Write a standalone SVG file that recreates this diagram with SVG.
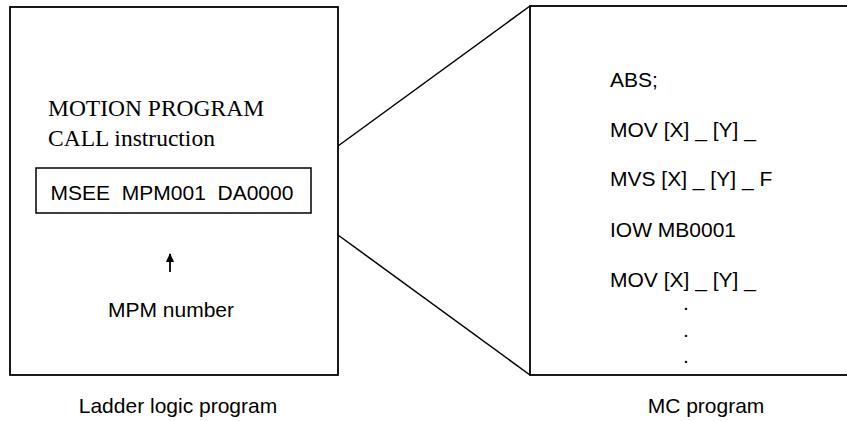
<svg xmlns="http://www.w3.org/2000/svg" width="847" height="421" viewBox="0 0 847 421">
  <style>
    .box { fill: #ffffff; stroke: #000000; stroke-width: 1.8; }
    .inner { fill: none; stroke: #000000; stroke-width: 1.5; }
    .link { fill: none; stroke: #000000; stroke-width: 1.5; }
    .serif { font-family: "Liberation Serif", "Times New Roman", serif; font-size: 23.5px; fill: #000000; }
    .sans { font-family: "Liberation Sans", Arial, sans-serif; font-size: 21px; fill: #000000; }
    .mid { text-anchor: middle; }
  </style>
  <defs>
    <marker id="head" viewBox="0 0 9 8" refX="8" refY="4" markerWidth="9" markerHeight="8" markerUnits="userSpaceOnUse" orient="auto">
      <path d="M0,0 L9,4 L0,8 Z" fill="#000000"/>
    </marker>
  </defs>
  <rect width="847" height="421" fill="#ffffff"/>

  <!-- expansion lines between the two programs -->
  <g id="connectors">
    <line class="link" x1="338" y1="146" x2="530" y2="6"/>
    <line class="link" x1="338" y1="235" x2="530" y2="375"/>
  </g>

  <!-- ladder logic program -->
  <g id="ladder-program">
    <rect class="box" x="10" y="7" width="328" height="368"/>
    <text class="serif" x="48" y="116">MOTION PROGRAM</text>
    <text class="serif" x="48" y="146">CALL instruction</text>
    <g id="msee-instruction">
      <rect class="inner" x="36" y="168" width="275" height="45"/>
      <text class="sans mid" x="172" y="200" xml:space="preserve">MSEE  MPM001  DA0000</text>
    </g>
    <g id="mpm-number">
      <line stroke="#000000" stroke-width="1.8" x1="170" y1="272" x2="170" y2="254" marker-end="url(#head)"/>
      <text class="sans mid" x="171" y="317">MPM number</text>
    </g>
    <text class="sans mid" x="178" y="413">Ladder logic program</text>
  </g>

  <!-- motion program listing -->
  <g id="mc-program">
    <rect class="box" x="530" y="6" width="330" height="369"/>
    <text class="sans" x="610" y="87">ABS;</text>
    <text class="sans" x="610" y="137">MOV [X] _ [Y] _</text>
    <text class="sans" x="610" y="186">MVS [X] _ [Y] _ F</text>
    <text class="sans" x="610" y="237">IOW MB0001</text>
    <text class="sans" x="610" y="287">MOV [X] _ [Y] _</text>
    <text class="sans mid" x="686" y="310">.</text>
    <text class="sans mid" x="686" y="337">.</text>
    <text class="sans mid" x="686" y="363">.</text>
    <text class="sans mid" x="706" y="413">MC program</text>
  </g>
</svg>
